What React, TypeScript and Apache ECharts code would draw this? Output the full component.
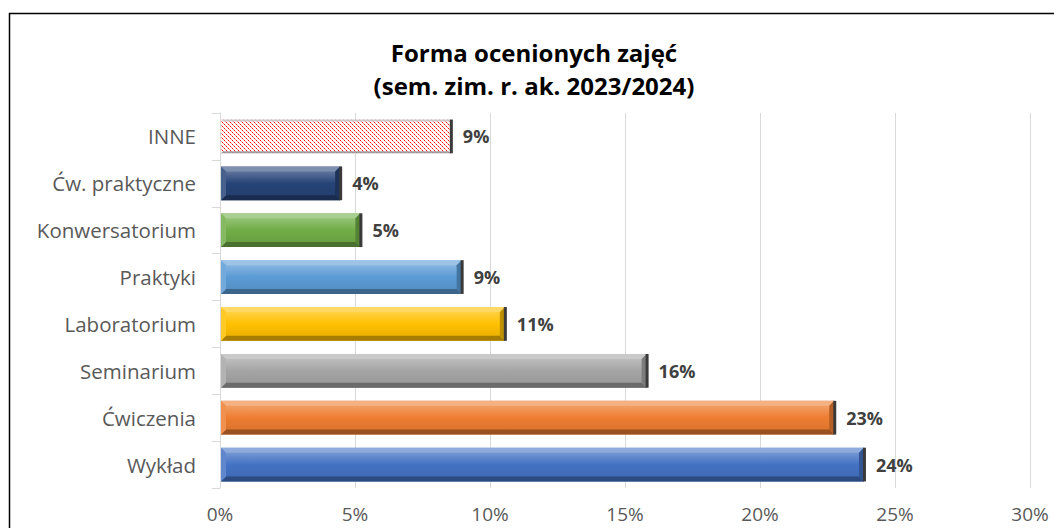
import React, { useEffect, useRef } from "react";
import * as echarts from "echarts";

const TITLE_LINE_1 = "Forma ocenionych zajęć";
const TITLE_LINE_2 = "(sem. zim. r. ak. 2023/2024)";

// bottom-to-top order (category axis runs upward)
const categories = [
  "Wykład",
  "Ćwiczenia",
  "Seminarium",
  "Laboratorium",
  "Praktyki",
  "Konwersatorium",
  "Ćw. praktyczne",
  "INNE",
];
const values = [23.85, 22.75, 15.8, 10.55, 8.95, 5.2, 4.45, 8.55];
const barColors = [
  "#4472C4",
  "#ED7D31",
  "#A5A5A5",
  "#FFC000",
  "#5B9BD5",
  "#70AD47",
  "#264478",
  "pattern",
];
const xTicks = [0, 5, 10, 15, 20, 25, 30];

const FONT = "'Open Sans', 'Noto Sans', sans-serif";

function parseHex(c: string): number[] {
  const h = c.replace("#", "");
  return [0, 2, 4].map((i) => parseInt(h.slice(i, i + 2), 16));
}
function mix(c: string, target: number, t: number): string {
  const rgb = parseHex(c).map((v) => Math.round(v + (target - v) * t));
  return `rgb(${rgb[0]},${rgb[1]},${rgb[2]})`;
}

function makePattern(): HTMLCanvasElement {
  const cv = document.createElement("canvas");
  cv.width = 8;
  cv.height = 8;
  const ctx = cv.getContext("2d")!;
  ctx.fillStyle = "#ffffff";
  ctx.fillRect(0, 0, 8, 8);
  for (let i = 0; i < 8; i++) {
    for (const k of [0, 4]) {
      const y = (i + k) % 8;
      ctx.fillStyle = i % 2 === 0 ? "#ff0000" : "#ff8080";
      ctx.fillRect(i, y, 1, 1);
    }
  }
  return cv;
}

export default function App() {
  const ref = useRef<HTMLDivElement>(null);
  useEffect(() => {
    if (!ref.current) return;
    const chart = echarts.init(ref.current, undefined, { renderer: "svg" });
    const patternCanvas = makePattern();
    const patternFill: any = {
      image: patternCanvas,
      repeat: "repeat",
      imageWidth: 8,
      imageHeight: 8,
    };

    const option: any = {
      animation: false,
      backgroundColor: "#ffffff",
      graphic: [
        {
          type: "rect",
          left: 7,
          top: 11,
          shape: { x: 0, y: 0, width: 1100, height: 600 },
          style: { fill: "none", stroke: "#000000", lineWidth: 1.5 },
          silent: true,
          z: -10,
        },
        {
          type: "text",
          x: 534,
          y: 52,
          style: {
            text: TITLE_LINE_1,
            font: `bold 24px ${FONT}`,
            fill: "#000000",
            textAlign: "center",
            textVerticalAlign: "middle",
          },
        },
        {
          type: "text",
          x: 534,
          y: 85,
          style: {
            text: TITLE_LINE_2,
            font: `bold 24px ${FONT}`,
            fill: "#000000",
            textAlign: "center",
            textVerticalAlign: "middle",
          },
        },
      ],
      grid: { left: 220, right: 24, top: 113, bottom: 40, containLabel: false },
      xAxis: {
        type: "value",
        min: xTicks[0],
        max: xTicks[xTicks.length - 1],
        interval: 5,
        axisLine: { show: false },
        axisTick: { show: false },
        splitLine: { lineStyle: { color: "#D9D9D9", width: 1 } },
        axisLabel: {
          formatter: "{value}%",
          color: "#595959",
          fontSize: 19,
          fontFamily: FONT,
          margin: 16,
        },
      },
      yAxis: {
        type: "category",
        data: categories,
        axisLine: { show: true, lineStyle: { color: "#D9D9D9" } },
        axisTick: { show: true, length: 8, lineStyle: { color: "#D9D9D9" } },
        axisLabel: {
          color: "#595959",
          fontSize: 20.5,
          fontFamily: FONT,
          margin: 24,
        },
      },
      series: [
        {
          type: "custom",
          encode: { x: 1, y: 0 },
          data: values.map((v, i) => [i, v]),
          renderItem: (params: any, api: any) => {
            const idx = api.value(0);
            const val = api.value(1);
            const start = api.coord([0, idx]);
            const end = api.coord([val, idx]);
            const h = api.size([0, 1])[1] * 0.72;
            const x0 = start[0] + 1;
            const x1 = end[0];
            const y0 = start[1] - h / 2;
            const y1 = start[1] + h / 2;
            const b = 5;
            const col = barColors[idx];
            const isPat = col === "pattern";
            const base = isPat ? "#BFBFBF" : col;
            const children: any[] = [];
            if (isPat) {
              children.push({
                type: "rect",
                shape: { x: x0, y: y0, width: x1 - x0, height: h },
                style: { fill: patternFill },
              });
              children.push({
                type: "polygon",
                shape: { points: [[x0, y0], [x1, y0], [x1 - 2, y0 + 2], [x0 + 2, y0 + 2]] },
                style: { fill: "rgba(200,200,200,0.9)" },
              });
              children.push({
                type: "polygon",
                shape: { points: [[x0, y1], [x1, y1], [x1 - 2, y1 - 2], [x0 + 2, y1 - 2]] },
                style: { fill: "rgba(150,150,150,0.9)" },
              });
            } else {
              children.push({
                type: "rect",
                shape: { x: x0, y: y0, width: x1 - x0, height: h },
                style: {
                  fill: new echarts.graphic.LinearGradient(0, 0, 0, 1, [
                    { offset: 0, color: mix(base, 255, 0.35) },
                    { offset: 0.2, color: mix(base, 255, 0.22) },
                    { offset: 0.5, color: base },
                    { offset: 1, color: mix(base, 0, 0.1) },
                  ]),
                },
              });
              // top bevel
              children.push({
                type: "polygon",
                shape: { points: [[x0, y0], [x1, y0], [x1 - b, y0 + b], [x0 + b, y0 + b]] },
                style: { fill: mix(base, 255, 0.4) },
              });
              // bottom bevel
              children.push({
                type: "polygon",
                shape: { points: [[x0, y1], [x1, y1], [x1 - b, y1 - b], [x0 + b, y1 - b]] },
                style: { fill: mix(base, 0, 0.35) },
              });
              // left bevel
              children.push({
                type: "polygon",
                shape: { points: [[x0, y0], [x0 + b, y0 + b], [x0 + b, y1 - b], [x0, y1]] },
                style: { fill: mix(base, 255, 0.15) },
              });
              // right bevel
              children.push({
                type: "polygon",
                shape: { points: [[x1, y0], [x1 - b, y0 + b], [x1 - b, y1 - b], [x1, y1]] },
                style: { fill: mix(base, 0, 0.25) },
              });
            }
            // dark end cap
            children.push({
              type: "rect",
              shape: { x: x1 - 1, y: y0, width: 3, height: h },
              style: { fill: "#3a3a3a" },
            });
            // value label
            children.push({
              type: "text",
              x: x1 + 12,
              y: start[1],
              style: {
                text: Math.round(val) + "%",
                font: `bold 18px ${FONT}`,
                fill: "#404040",
                textAlign: "left",
                textVerticalAlign: "middle",
              },
            });
            return { type: "group", children };
          },
        },
      ],
    };
    chart.setOption(option);
    return () => chart.dispose();
  }, []);
  return (
    <div
      ref={ref}
      style={{ position: "fixed", left: 0, top: 0, width: 1054, height: 528 }}
    />
  );
}
